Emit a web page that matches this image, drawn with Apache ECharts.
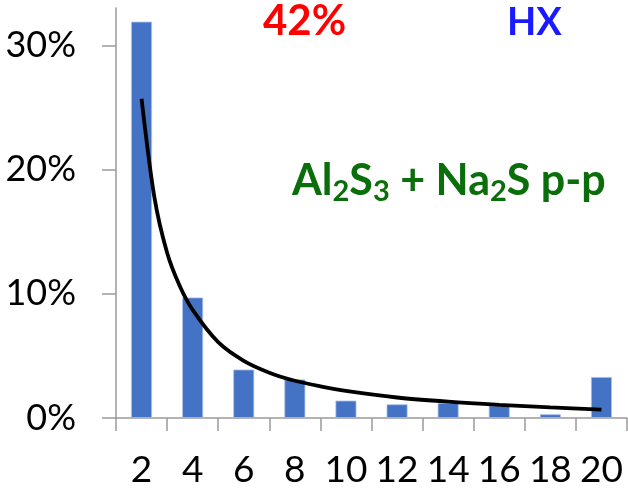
<!DOCTYPE html>
<html>
<head>
<meta charset="utf-8">
<script src="https://cdn.jsdelivr.net/npm/echarts@6/dist/echarts.min.js"></script>
<style>
  html, body { margin: 0; padding: 0; background: #fff; }
  #chart { width: 628px; height: 489px; }
</style>
</head>
<body>
<div id="chart"></div>
<script>
// Cluster size categories
var sizes = ['2', '4', '6', '8', '10', '12', '14', '16', '18', '20'];
// Share of each size (fraction)
var shares = [0.319, 0.097, 0.039, 0.031, 0.014, 0.011, 0.012, 0.010, 0.003, 0.033];
// Power-law trend curve, sampled as [size, share]
var trendX = [2, 2.5, 3, 3.5, 4, 5, 6, 7, 8, 9, 10, 12, 14, 16, 18, 20];
var trendY = [0.257, 0.178, 0.133, 0.106, 0.087, 0.061, 0.046, 0.0365, 0.030, 0.0255, 0.0218, 0.0165, 0.0131, 0.0106, 0.0086, 0.0068];
// Value-axis ticks
var yTicks = [0, 0.1, 0.2, 0.3];

var FONT = 'Lato, "Open Sans", sans-serif';
var AXIS_GREY = '#9a9a9a';

var trendData = trendX.map(function (x, i) { return [x, trendY[i]]; });

var chart = echarts.init(document.getElementById('chart'));
chart.setOption({
  animation: false,
  backgroundColor: '#ffffff',
  grid: { left: 116, right: 1, top: 8, bottom: 70 },
  xAxis: [
    {
      type: 'category',
      data: sizes,
      boundaryGap: true,
      axisLine: { lineStyle: { color: AXIS_GREY, width: 1.5 } },
      axisTick: { show: true, length: 13, interval: 0, lineStyle: { color: AXIS_GREY, width: 1.5 } },
      axisLabel: { interval: 0, color: '#000', fontFamily: FONT, fontSize: 37, margin: 34 },
      splitLine: { show: false }
    },
    {
      type: 'value',
      min: 1,
      max: 21,
      show: false
    }
  ],
  yAxis: {
    type: 'value',
    min: 0,
    max: 0.33,
    interval: 0.1,
    axisLine: { show: true, lineStyle: { color: AXIS_GREY, width: 1.5 } },
    axisTick: { show: true, inside: false, length: 14, customValues: yTicks, lineStyle: { color: AXIS_GREY, width: 1.5 } },
    axisLabel: {
      customValues: yTicks,
      color: '#000', fontFamily: FONT, fontSize: 36, margin: 40,
      formatter: function (v) { return Math.round(v * 100) + '%'; }
    },
    splitLine: { show: false }
  },
  series: [
    {
      type: 'bar',
      data: shares,
      xAxisIndex: 0,
      barWidth: '41%',
      itemStyle: { color: '#4472C4', borderColor: '#a9c0e8', borderWidth: 0.8 }
    },
    {
      type: 'line',
      data: trendData,
      xAxisIndex: 1,
      smooth: 0.3,
      symbol: 'none',
      lineStyle: { color: '#000', width: 3.8 },
      z: 5
    }
  ],
  graphic: [
    {
      type: 'text', left: 263, top: 0,
      style: { text: '42%', fill: '#ff0000', font: 'bold 42px ' + FONT }
    },
    {
      type: 'text', left: 507, top: 4,
      style: { text: 'HX', fill: '#1a1aff', font: 'bold 38px ' + FONT }
    },
    {
      type: 'text', left: 292, top: 160,
      style: {
        text: '{n|Al}{s|2}{n|S}{s|3}{n| + Na}{s|2}{n|S p-p}',
        rich: {
          n: { fill: '#0a6e0a', fontFamily: FONT, fontWeight: 'bold', fontSize: 43 },
          s: { fill: '#0a6e0a', fontFamily: FONT, fontWeight: 'bold', fontSize: 29, padding: [20, 0, 0, 0] }
        }
      }
    }
  ]
});
</script>
</body>
</html>
